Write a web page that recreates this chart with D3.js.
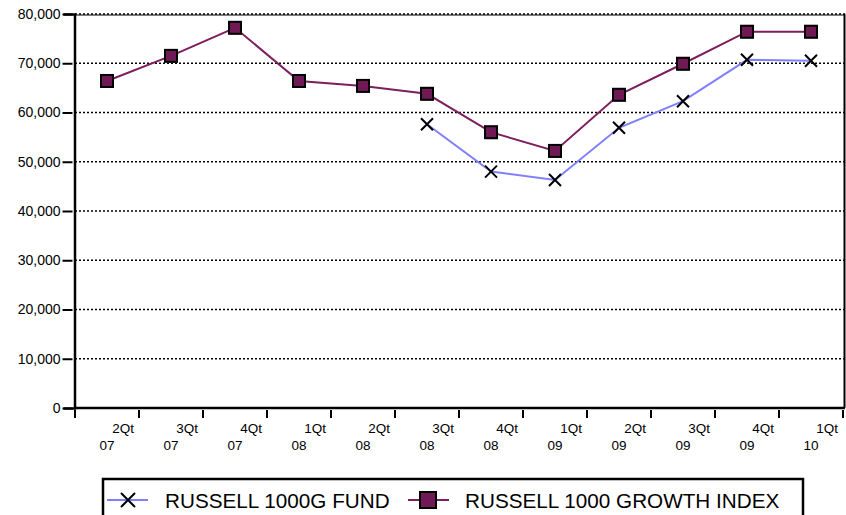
<!DOCTYPE html>
<html>
<head>
<meta charset="utf-8">
<script src="https://cdn.jsdelivr.net/npm/d3@7"></script>
<style>
  body { margin: 0; background: #fff; }
  svg { display: block; }
  text { font-family: "Liberation Sans", Arial, sans-serif; fill: #000; }
</style>
</head>
<body>
<svg width="846" height="515"></svg>
<script>
var quarters = ['2Qt', '3Qt', '4Qt', '1Qt', '2Qt', '3Qt', '4Qt', '1Qt', '2Qt', '3Qt', '4Qt', '1Qt'];
var years = ['07', '07', '07', '08', '08', '08', '08', '09', '09', '09', '09', '10'];
var indexValues = [66400, 71500, 77200, 66400, 65400, 63800, 56000, 52200, 63600, 69900, 76400, 76400];
var fundValues = [null, null, null, null, null, 57600, 48000, 46300, 56900, 62300, 70700, 70500];
var yTicks = [0, 10000, 20000, 30000, 40000, 50000, 60000, 70000, 80000];

var svg = d3.select('svg');
var plotLeft = 75, plotRight = 843, plotTop = 14, plotBottom = 408;

var keys = quarters.map(function(q, i) { return i; });
var x = d3.scaleBand().domain(keys).range([plotLeft, plotRight]).padding(0);
var y = d3.scaleLinear().domain([0, 80000]).range([plotBottom, plotTop]);
var cx = function(i) { return x(i) + x.bandwidth() / 2; };

// dotted gridlines
svg.append('g')
  .selectAll('line')
  .data(yTicks.slice(1))
  .enter()
  .append('line')
  .attr('x1', plotLeft).attr('x2', 845)
  .attr('y1', function(d) { return y(d); })
  .attr('y2', function(d) { return y(d); })
  .attr('stroke', '#000')
  .attr('stroke-width', 1.5)
  .attr('stroke-dasharray', '2,2');

// frame: top solid thin, right solid
svg.append('line').attr('x1', plotLeft).attr('x2', 845).attr('y1', plotTop + 1).attr('y2', plotTop + 1)
  .attr('stroke', '#000').attr('stroke-width', 1);
svg.append('line').attr('x1', 844.5).attr('x2', 844.5).attr('y1', plotTop).attr('y2', plotBottom)
  .attr('stroke', '#000').attr('stroke-width', 2);

// y axis
var yAxis = svg.append('g')
  .attr('transform', 'translate(' + (plotLeft - 0.5) + ',0)')
  .call(d3.axisLeft(y).tickValues(yTicks).tickFormat(d3.format(',')).tickSize(11).tickPadding(3));
yAxis.select('.domain').attr('stroke-width', 2.5);
yAxis.selectAll('.tick line').attr('stroke-width', 2).attr('x2', -2).attr('x1', -12);
yAxis.selectAll('.tick text').attr('font-size', 14).attr('font-family', '"Liberation Sans", Arial, sans-serif');

// x axis
svg.append('line').attr('x1', plotLeft - 1).attr('x2', 845).attr('y1', plotBottom).attr('y2', plotBottom)
  .attr('stroke', '#000').attr('stroke-width', 2.5);
var xTickPos = keys.map(function(i) { return x(i); }).concat([plotRight]);
svg.append('g')
  .selectAll('line')
  .data(xTickPos)
  .enter()
  .append('line')
  .attr('x1', function(d) { return d; })
  .attr('x2', function(d) { return d; })
  .attr('y1', plotBottom + 2)
  .attr('y2', plotBottom + 10)
  .attr('stroke', '#000')
  .attr('stroke-width', 2);

var xl = svg.append('g').selectAll('g').data(keys).enter().append('g');
xl.append('text')
  .attr('x', function(i) { return x(i) + x.bandwidth() - 5; })
  .attr('y', 433)
  .attr('text-anchor', 'end')
  .attr('font-size', 13.5)
  .text(function(i) { return quarters[i]; });
xl.append('text')
  .attr('x', function(i) { return cx(i); })
  .attr('y', 450)
  .attr('text-anchor', 'middle')
  .attr('font-size', 13.5)
  .text(function(i) { return years[i]; });

// lines
var line = d3.line()
  .defined(function(d) { return d.v != null; })
  .x(function(d) { return cx(d.i); })
  .y(function(d) { return y(d.v); });

var indexData = indexValues.map(function(v, i) { return {i: i, v: v}; });
var fundData = fundValues.map(function(v, i) { return {i: i, v: v}; });

svg.append('path').datum(fundData).attr('d', line)
  .attr('fill', 'none').attr('stroke', '#8080ff').attr('stroke-width', 2);
svg.append('path').datum(indexData).attr('d', line)
  .attr('fill', 'none').attr('stroke', '#7b1f5e').attr('stroke-width', 2);

function cross(g, px, py, s) {
  g.append('path')
    .attr('d', 'M' + (px - s) + ',' + (py - s) + 'L' + (px + s) + ',' + (py + s) +
      'M' + (px - s) + ',' + (py + s) + 'L' + (px + s) + ',' + (py - s))
    .attr('stroke', '#000').attr('stroke-width', 2).attr('fill', 'none');
}
function square(g, px, py, s) {
  g.append('rect').attr('x', px - s + 1).attr('y', py - s + 1).attr('width', 2 * s).attr('height', 2 * s)
    .attr('fill', '#999');
  g.append('rect').attr('x', px - s).attr('y', py - s).attr('width', 2 * s).attr('height', 2 * s)
    .attr('fill', '#701a55').attr('stroke', '#000').attr('stroke-width', 2);
}

var marks = svg.append('g');
fundData.filter(function(d) { return d.v != null; }).forEach(function(d) {
  cross(marks, cx(d.i), y(d.v), 6);
});
indexData.forEach(function(d) {
  square(marks, cx(d.i), y(d.v), 6);
});

// legend
var lg = svg.append('g');
lg.append('rect').attr('x', 103).attr('y', 479).attr('width', 700).attr('height', 60)
  .attr('fill', '#fff').attr('stroke', '#000').attr('stroke-width', 2.5);
lg.append('line').attr('x1', 107).attr('x2', 148).attr('y1', 500).attr('y2', 500)
  .attr('stroke', '#8080ff').attr('stroke-width', 2);
cross(lg, 128, 500, 7);
lg.append('text').attr('x', 165).attr('y', 508).attr('font-size', 20.7).text('RUSSELL 1000G FUND');
lg.append('line').attr('x1', 408).attr('x2', 449).attr('y1', 500).attr('y2', 500)
  .attr('stroke', '#7b1f5e').attr('stroke-width', 2);
square(lg, 428, 500, 8);
lg.append('text').attr('x', 465).attr('y', 508).attr('font-size', 20.7).text('RUSSELL 1000 GROWTH INDEX');
</script>
</body>
</html>
